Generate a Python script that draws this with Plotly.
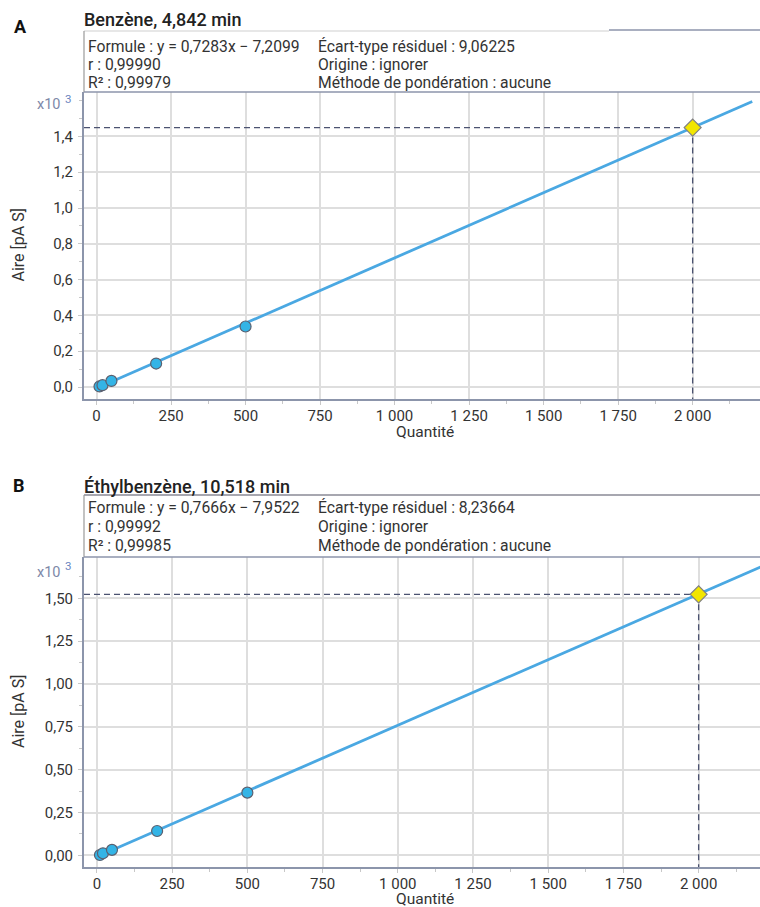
import plotly.graph_objects as go

# ---------------- data ----------------
cal_qty = [10, 20, 50, 200, 500]
benzene_area = [3, 10, 34, 131, 338]
ethylbenzene_area = [2, 12, 32, 142, 366]

sample_qty = 2000
benzene_sample_area = 1449
ethylbenzene_sample_area = 1523

benzene_fit_x = [0, 2200]
benzene_fit_y = [-7.2, 1595]
ethylbenzene_fit_x = [0, 2250]
ethylbenzene_fit_y = [-8.0, 1717]

x_tick_vals = [0, 250, 500, 750, 1000, 1250, 1500, 1750, 2000]
x_tick_text = ["0", "250", "500", "750", "1 000", "1 250", "1 500", "1 750", "2 000"]
yA_tick_vals = [0, 200, 400, 600, 800, 1000, 1200, 1400]
yA_tick_text = ["0,0", "0,2", "0,4", "0,6", "0,8", "1,0", "1,2", "1,4"]
yB_tick_vals = [0, 250, 500, 750, 1000, 1250, 1500]
yB_tick_text = ["0,00", "0,25", "0,50", "0,75", "1,00", "1,25", "1,50"]

titleA = "Benzène, 4,842 min"
titleB = "Éthylbenzène, 10,518 min"
infoA_left = ["Formule : y = 0,7283x − 7,2099", "r : 0,99990", "R² : 0,99979"]
infoA_right = ["Écart-type résiduel : 9,06225", "Origine : ignorer", "Méthode de pondération : aucune"]
infoB_left = ["Formule : y = 0,7666x − 7,9522", "r : 0,99992", "R² : 0,99985"]
infoB_right = ["Écart-type résiduel : 8,23664", "Origine : ignorer", "Méthode de pondération : aucune"]

# ---------------- layout helpers ----------------
W, H = 760, 907
def px(x):
    return x / W
def py(y):
    return 1 - y / H

FONT = "Roboto, 'Noto Sans', sans-serif"
AXIS_COL = "#8c95ab"
GRID_COL = "#dedede"
TICK_COL = "#c8c8c8"
DASH_COL = "#4b5270"
LINE_COL = "#4aa8e2"
PT_COL = "#33b4e6"
PT_EDGE = "#5a6070"
DIA_COL = "#f2e600"
INFO_SIZE = 15.7

xA_range = [-42, 2226]
yA_range = [-67, 1648]
xB_range = [-43, 2204]
yB_range = [-68, 1741]

fig = go.Figure()

def add_panel(xa, ya, xr, yr, fit_x, fit_y, qty, area, s_area):
    fig.add_trace(go.Scatter(x=[xr[0], sample_qty], y=[s_area, s_area], mode="lines",
                             line=dict(color=DASH_COL, width=1.3, dash="6px,4px"),
                             xaxis=xa, yaxis=ya, showlegend=False, hoverinfo="skip"))
    fig.add_trace(go.Scatter(x=[sample_qty, sample_qty], y=[s_area, yr[0]], mode="lines",
                             line=dict(color=DASH_COL, width=1.3, dash="6px,4px"),
                             xaxis=xa, yaxis=ya, showlegend=False, hoverinfo="skip"))
    fig.add_trace(go.Scatter(x=fit_x, y=fit_y, mode="lines",
                             line=dict(color=LINE_COL, width=2.8),
                             xaxis=xa, yaxis=ya, showlegend=False))
    fig.add_trace(go.Scatter(x=qty, y=area, mode="markers",
                             marker=dict(color=PT_COL, size=11, line=dict(color=PT_EDGE, width=1.2)),
                             xaxis=xa, yaxis=ya, showlegend=False))
    fig.add_trace(go.Scatter(x=[sample_qty], y=[s_area], mode="markers",
                             marker=dict(symbol="diamond", color=DIA_COL, size=13,
                                         line=dict(color="#808080", width=1.2)),
                             xaxis=xa, yaxis=ya, showlegend=False))

add_panel("x", "y", xA_range, yA_range, benzene_fit_x, benzene_fit_y, cal_qty, benzene_area, benzene_sample_area)
add_panel("x2", "y2", xB_range, yB_range, ethylbenzene_fit_x, ethylbenzene_fit_y, cal_qty, ethylbenzene_area, ethylbenzene_sample_area)

def xaxis_def(rng):
    return dict(domain=[px(84), 1.0], range=rng, tickmode="array", tickvals=x_tick_vals,
                ticktext=x_tick_text, showgrid=True, gridcolor=GRID_COL, gridwidth=1.5,
                zeroline=False, showline=True, linecolor=AXIS_COL, linewidth=2,
                ticks="outside", ticklen=4, tickcolor=TICK_COL, tickwidth=1,
                tickfont=dict(family=FONT, size=15, color="#333333"), ticklabelstandoff=-2,
                minor=dict(tickmode="linear", tick0=0, dtick=125, ticks="outside", ticklen=3,
                           tickcolor=TICK_COL, showgrid=False),
                fixedrange=True)

def yaxis_def(rng, tv, tt, mdt, ybot, ytop):
    return dict(domain=[py(ybot), py(ytop)], range=rng, tickmode="array", tickvals=tv,
                ticktext=tt, showgrid=True, gridcolor=GRID_COL, gridwidth=1.5,
                zeroline=False, showline=True, linecolor=AXIS_COL, linewidth=2,
                ticks="outside", ticklen=4, tickcolor=TICK_COL, tickwidth=1,
                tickfont=dict(family=FONT, size=15, color="#333333"), ticklabelstandoff=2,
                minor=dict(tickmode="linear", tick0=0, dtick=mdt, ticks="outside", ticklen=3,
                           tickcolor=TICK_COL, showgrid=False),
                fixedrange=True)

fig.update_layout(
    width=W, height=H, margin=dict(l=0, r=0, t=0, b=0),
    paper_bgcolor="white", plot_bgcolor="white", showlegend=False,
    font=dict(family=FONT, color="#333333"),
    xaxis=dict(**xaxis_def(xA_range), anchor="y"),
    yaxis=dict(**yaxis_def(yA_range, yA_tick_vals, yA_tick_text, 100, 399, 92), anchor="x"),
    xaxis2=dict(**xaxis_def(xB_range), anchor="y2"),
    yaxis2=dict(**yaxis_def(yB_range, yB_tick_vals, yB_tick_text, 125, 867, 557), anchor="x2"),
)

ann = []
def text(x, y, s, size=INFO_SIZE, color="#333333", xanchor="left", weight="normal", angle=0):
    ann.append(dict(x=px(x), y=py(y), xref="paper", yref="paper", text=s, showarrow=False,
                    xanchor=xanchor, yanchor="middle", textangle=angle, borderpad=0,
                    font=dict(family=FONT, size=size, color=color, weight=weight)))

shapes = []
def hline(x0, x1, y, color, width=1.3):
    shapes.append(dict(type="line", xref="paper", yref="paper", x0=px(x0), x1=px(x1),
                       y0=py(y), y1=py(y), line=dict(color=color, width=width)))
def vline(x, y0, y1, color, width=1.3):
    shapes.append(dict(type="line", xref="paper", yref="paper", x0=px(x), x1=px(x),
                       y0=py(y0), y1=py(y1), line=dict(color=color, width=width)))

# Panel A header
text(13, 26, "<b>A</b>", size=18, color="#111111")
text(83, 20, titleA, size=18, color="#222222", weight=500)
for i, (l, r) in enumerate(zip(infoA_left, infoA_right)):
    yy = 47 + i * 18
    text(87, yy, l)
    text(317, yy, r)
hline(84, 609, 31, "#d0d0d0", 1.2)
hline(609, 760, 30, "#8c95ab", 1.6)
vline(84, 31, 92, "#9a9a9a", 1.2)
hline(84, 760, 92, AXIS_COL, 1.6)
text(62, 105, "x10", size=14.5, color="#7d88a8", xanchor="right")
text(64, 99, "3", size=11.5, color="#6a86c0")
text(18, 245.5, "Aire [pA S]", size=16, xanchor="center", angle=-90)
text(425, 432, "Quantité", size=15.5, xanchor="center")

# Panel B header
text(12, 485, "<b>B</b>", size=18, color="#111111")
text(83, 486, titleB, size=18, color="#222222", weight=500)
for i, (l, r) in enumerate(zip(infoB_left, infoB_right)):
    yy = 507 + i * 19
    text(87, yy, l)
    text(317, yy, r)
hline(84, 760, 495, "#8a8a96", 1.3)
vline(84, 495, 557, "#9a9a9a", 1.2)
hline(84, 760, 557, AXIS_COL, 1.6)
text(62, 572, "x10", size=14.5, color="#7d88a8", xanchor="right")
text(64, 566, "3", size=11.5, color="#6a86c0")
text(18, 712, "Aire [pA S]", size=16, xanchor="center", angle=-90)
text(425, 899, "Quantité", size=15.5, xanchor="center")

fig.update_layout(annotations=ann, shapes=shapes)
fig.write_html("out.html", config={"displayModeBar": False},
               post_script="document.body.style.margin='0px';document.body.style.overflow='hidden';")
